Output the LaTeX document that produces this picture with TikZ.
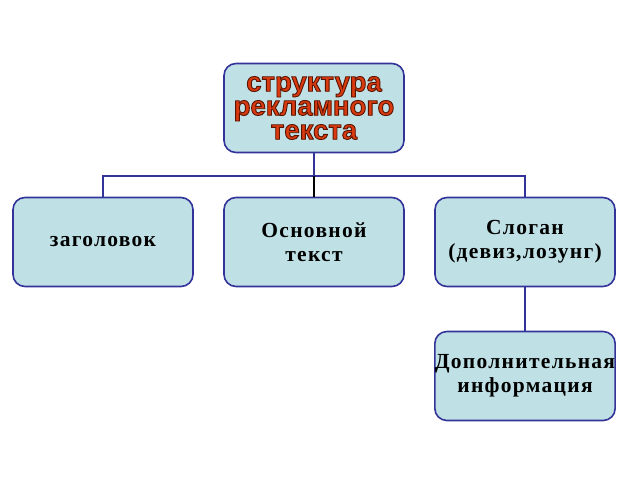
\documentclass[tikz,border=0pt]{standalone}
\usepackage{fontspec}
\setmainfont{Liberation Serif}
\newfontfamily\titlefont{Liberation Sans}
\newfontfamily\boxfont[LetterSpace=6]{Liberation Serif}
\definecolor{boxfill}{HTML}{BFE1E6}
\definecolor{boxline}{HTML}{333399}
\definecolor{titred}{HTML}{D93A10}
\begin{document}
\begin{tikzpicture}[x=1pt,y=-1pt,
  box/.style={draw=boxline,line width=1.6pt,fill=boxfill,rounded corners=12pt,minimum width=180pt,minimum height=89pt,inner sep=0pt,align=center,font=\boxfont\bfseries\fontsize{21.5}{24}\selectfont},
  link/.style={draw=boxline,line width=2pt}]
\useasboundingbox (0,0) rectangle (640,480);
\node[box] (top) at (314,108) {};
\node[text=titred,align=center,font=\titlefont\bfseries\fontsize{27.5}{24}\selectfont] (title) at (314,108)
  {\special{pdf:code 2 Tr 0.9 w 0.35 0.08 0 RG}структура\\рекламного\\текста\special{pdf:code 0 Tr}};
\node[box] (a) at (103,242) {заголовок};
\node[box] (b) at (314,242) {Основной\\текст};
\node[box] (c) at (525,242) {Слоган\\(девиз,лозунг)};
\node[box] (d) at (525,376) {Дополнительная\\информация};
\coordinate (j) at (314,176);
\draw[link] (top.south) -- (j);
\draw[link] (a.north) |- (j) -| (c.north);
\draw[line width=1.2pt] (j) -- (b.north);
\draw[link] (c.south) -- (d.north);
\end{tikzpicture}
\end{document}
